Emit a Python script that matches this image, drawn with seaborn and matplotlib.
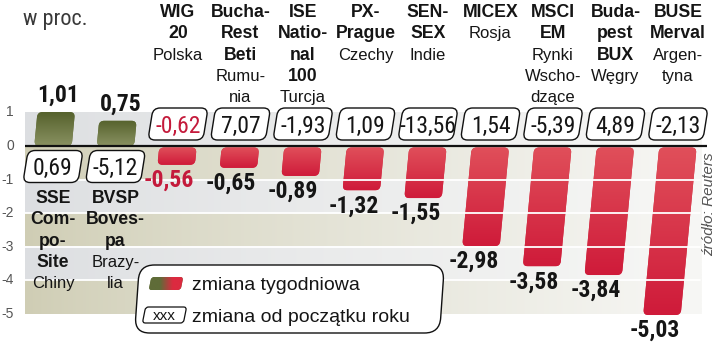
import numpy as np
import pandas as pd
import matplotlib
matplotlib.use("Agg")
import matplotlib.pyplot as plt
import seaborn as sns
from matplotlib.patches import FancyBboxPatch
from matplotlib.transforms import Affine2D
from matplotlib import font_manager
from matplotlib.colors import to_rgb

# ---------------- data ----------------
categories = ["SSE Composite", "BVSP Bovespa", "WIG 20", "Bucharest Beti",
              "ISE National 100", "PX-Prague", "SENSEX", "MICEX", "MSCI EM",
              "Budapest BUX", "BUSE Merval"]
index_lines = [["SSE", "Com-", "po-", "Site"], ["BVSP", "Boves-", "pa"], ["WIG", "20"],
               ["Bucha-", "Rest", "Beti"], ["ISE", "Natio-", "nal", "100"], ["PX-", "Prague"],
               ["SEN-", "SEX"], ["MICEX"], ["MSCI", "EM"], ["Buda-", "pest", "BUX"],
               ["BUSE", "Merval"]]
country_lines = [["Chiny"], ["Brazy-", "lia"], ["Polska"], ["Rumu-", "nia"], ["Turcja"],
                 ["Czechy"], ["Indie"], ["Rosja"], ["Rynki", "Wscho-", "dzące"], ["Węgry"],
                 ["Argen-", "tyna"]]
weekly = [1.01, 0.75, -0.56, -0.65, -0.89, -1.32, -1.55, -2.98, -3.58, -3.84, -5.03]
ytd = [0.69, -5.12, -0.62, 7.07, -1.93, 1.09, -13.56, 1.54, -5.39, 4.89, -2.13]
highlight = "WIG 20"
y_ticks = [1, 0, -1, -2, -3, -4, -5]
unit_label = "w proc."
legend_labels = ["zmiana tygodniowa", "zmiana od początku roku"]
source = "źródło: Reuters"

# ---------------- fonts ----------------
sns.set_style("white")
names = {f.name for f in font_manager.fontManager.ttflist}
def pick(*cands):
    for c in cands:
        if c in names:
            return c
    return "DejaVu Sans"
NARROW = pick("Roboto Condensed", "Liberation Sans Narrow", "Open Sans Condensed")
SANS = pick("Liberation Sans", "Roboto", "DejaVu Sans")
NARROW_STRETCH = "condensed" if NARROW == "DejaVu Sans" else "normal"
plt.rcParams["font.family"] = [SANS, "DejaVu Sans"]

# ---------------- geometry helpers ----------------
W, H = 720, 342
X0, PXX = 53.0, 62.5      # pixel of category 0, pixels per category
Y0, PXY = 146.0, 33.6     # pixel of value 0, pixels per unit
def bx(p): return (p - X0) / PXX
def by(p): return (Y0 - p) / PXY

fig = plt.figure(figsize=(W / 100, H / 100), dpi=100)
ax = fig.add_axes([0, 0, 1, 1])

def slant_tr(cy, slant_px):
    t = slant_px * PXY / PXX
    return Affine2D().translate(0, -cy).skew(np.arctan(t), 0).translate(0, cy) + ax.transData

def rbox(x0, y0, w, h, r_px, cy, slant_px, **kw):
    ma = PXX / PXY
    p = FancyBboxPatch((x0, y0), w, h, boxstyle=f"round,pad=0,rounding_size={r_px / PXX}",
                       mutation_aspect=ma, transform=slant_tr(cy, slant_px), **kw)
    ax.add_patch(p)
    return p

def hgrad(x0p, x1p, ya, yb, cl, cr, z):
    t = np.linspace(0, 1, 256) ** 0.8
    cols = (1 - t)[:, None] * np.array(to_rgb(cl)) + t[:, None] * np.array(to_rgb(cr))
    ax.imshow(cols[None, :, :], extent=[bx(x0p), bx(x1p), ya, yb], aspect="auto",
              zorder=z, interpolation="bilinear")

# ---------------- background bands ----------------
GREY, OLIVE, FADE = "#dcdee1", "#cfcdb4", "#f7f7f5"
for k, top in enumerate(y_ticks[:-1]):
    col = GREY if k % 2 == 0 else OLIVE
    hgrad(25, 702, top - 1, top, col, FADE, 0)

# ---------------- bars via seaborn ----------------
GREEN, RED = "#66723f", "#d42a3f"
df = pd.DataFrame({"cat": categories, "weekly": weekly,
                   "kind": ["up" if v > 0 else "down" for v in weekly]})
sns.barplot(data=df, x="cat", y="weekly", hue="kind", order=categories,
            palette={"up": GREEN, "down": RED}, dodge=False, width=0.6,
            errorbar=None, legend=False, ax=ax)

for p in list(ax.patches):
    x, y, w, h = p.get_x(), p.get_y(), p.get_width(), p.get_height()
    if h == 0 or not np.isfinite(h):
        p.remove()
        continue
    up = h > 0
    p.remove()
    ya, yb = min(y, y + h), max(y, y + h)
    if not up:
        yb -= 1.5 / PXY
    fb = rbox(x, ya, w, yb - ya, 5, 0, 0.095, fc=GREEN if up else RED, ec="none", zorder=2)
    if up:
        ct, cb = "#56622d", "#899161"
    else:
        ct, cb = "#e04f5a", "#cf1b3a"
    t = np.linspace(0, 1, 64)[:, None]
    arr = (1 - t) * np.array(to_rgb(ct)) + t * np.array(to_rgb(cb))
    im = ax.imshow(arr[:, None, :], extent=[x - 0.4, x + w + 0.4, ya, yb], aspect="auto",
                   zorder=2, interpolation="bilinear")
    im.set_clip_path(fb)

# grid lines (white) and zero line
for yv in y_ticks[2:-1]:
    ax.plot([bx(25), bx(700)], [yv, yv], color="white", lw=1.3, zorder=3)
ax.plot([bx(25), bx(707)], [0, 0], color="#111111", lw=1.6, zorder=4, solid_capstyle="butt")

# ---------------- labels ----------------
def fmt(v):
    return f"{v:.2f}".replace(".", ",")

HL = "#c41a3b"
LINE = 21.3
for i, (cat, v, yv) in enumerate(zip(categories, weekly, ytd)):
    col = HL if cat == highlight else "#151515"
    lines = [(s, "bold") for s in index_lines[i]] + [(s, "normal") for s in country_lines[i]]
    if v > 0:
        top_px = Y0 - v * PXY
        ax.text(i + 0.08, by(top_px - 10), fmt(v), ha="center", va="baseline",
                fontsize=17, fontweight="bold", family=NARROW, fontstretch=NARROW_STRETCH,
                color=col, zorder=6)
        box_cy = 166.5
        base0 = 203
    else:
        bot_px = Y0 - v * PXY
        shift = 0.051 * v
        ax.text(i + shift - 0.12, by(bot_px + 22), fmt(v), ha="center", va="baseline",
                fontsize=17, fontweight="bold", family=NARROW, fontstretch=NARROW_STRETCH,
                color=col, zorder=6)
        box_cy = 124
        base0 = 17
    # ytd box
    cyd = by(box_cy)
    hh = 32 / PXY
    ww = 55 / PXX
    rbox(i - ww / 2, cyd - hh / 2, ww, hh, 7, cyd, 0.16, fc="white", ec="#111111",
         lw=1.0, zorder=5)
    ax.text(i, by(box_cy + 8.5), fmt(yv), ha="center", va="baseline", fontsize=17,
            family=NARROW, fontstretch=NARROW_STRETCH, color=col, zorder=6)
    for k, (s, wgt) in enumerate(lines):
        ax.text(i, by(base0 + k * LINE), s, ha="center", va="baseline",
                fontsize=12.7 if wgt == "bold" else 12,
                fontweight=wgt, color="#151515", zorder=6)

# y tick labels
for t in y_ticks:
    ax.text(bx(14), t, str(t), ha="right", va="center", fontsize=10, color="#555555",
            zorder=6)
ax.text(bx(23), by(25), unit_label, ha="left", va="baseline", fontsize=16, family=NARROW,
        fontstretch=NARROW_STRETCH, color="#3a3a3a")

# source
ax.text(bx(709), by(204), source, rotation=90, ha="center", va="center", fontsize=11,
        style="italic", color="#555555", zorder=6)

# ---------------- legend ----------------
lg_cy = by(299)
rbox(bx(137), by(333), 305 / PXX, 68 / PXY, 15, lg_cy, 0.07, fc="white", ec="#111111",
     lw=1.0, zorder=7)
sw_cy = by(283.5)
sw = rbox(bx(150), by(290), 32 / PXX, 13 / PXY, 3, sw_cy, 0.2, fc=GREEN, ec="none", zorder=8)
t = np.linspace(0, 1, 128)
t = np.clip((t - 0.35) / 0.3, 0, 1)
cols = (1 - t)[:, None] * np.array(to_rgb("#5f6c38")) + t[:, None] * np.array(to_rgb("#dc2a40"))
im = ax.imshow(cols[None, :, :], extent=[bx(145), bx(188), by(292), by(275)], aspect="auto",
               zorder=8, interpolation="bilinear")
im.set_clip_path(sw)
ax.text(bx(192), by(290), legend_labels[0], ha="left", va="baseline", fontsize=14,
        color="#151515", zorder=9)
bx_cy = by(315)
rbox(bx(144), by(323), 41 / PXX, 16 / PXY, 3, bx_cy, 0.2, fc="white", ec="#111111",
     lw=0.9, zorder=8)
ax.text(bx(164.5), by(319.5), "xxx", ha="center", va="baseline", fontsize=11,
        color="#151515", zorder=9)
ax.text(bx(192), by(322), legend_labels[1], ha="left", va="baseline", fontsize=14,
        color="#151515", zorder=9)

ax.set_xlim(bx(0), bx(W))
ax.set_ylim(by(H), by(0))
ax.axis("off")
fig.savefig("out.png", dpi=100, facecolor="white")
